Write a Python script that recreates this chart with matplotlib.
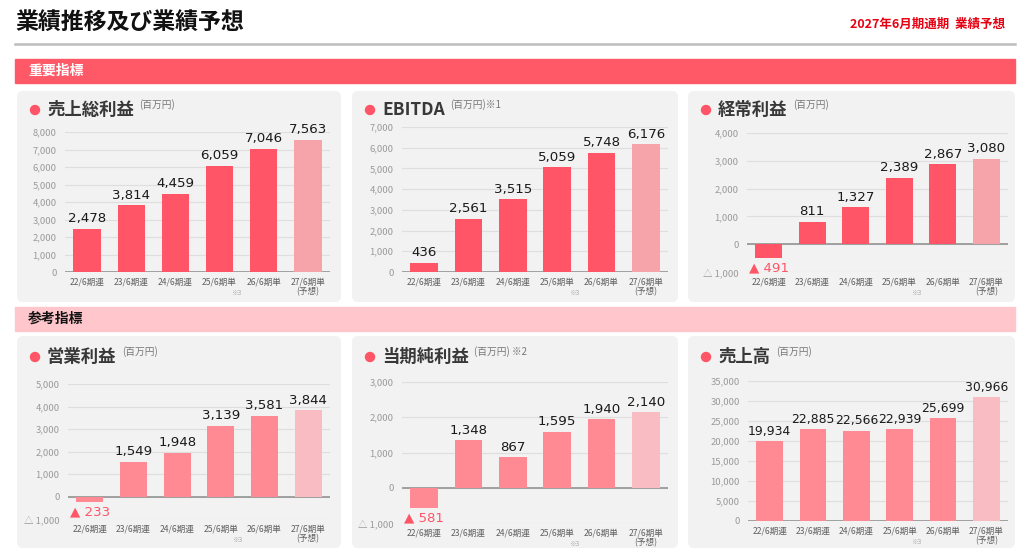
import matplotlib
matplotlib.use("Agg")
import matplotlib.pyplot as plt
from matplotlib.patches import FancyBboxPatch, Rectangle, Circle

plt.rcParams['font.family'] = ['Noto Sans CJK JP', 'DejaVu Sans']

categories = ["22/6期連", "23/6期連", "24/6期連", "25/6期単", "26/6期単", "27/6期単\n(予想)"]

gross_profit = [2478, 3814, 4459, 6059, 7046, 7563]
ebitda = [436, 2561, 3515, 5059, 5748, 6176]
ordinary_profit = [-491, 811, 1327, 2389, 2867, 3080]
operating_profit = [-233, 1549, 1948, 3139, 3581, 3844]
net_income = [-581, 1348, 867, 1595, 1940, 2140]
net_sales = [19934, 22885, 22566, 22939, 25699, 30966]

TOP_MAIN, TOP_FC = '#FF5566', '#F7A3AA'
BOT_MAIN, BOT_FC = '#FF8A94', '#F9BCC3'
NEG_COLOR = '#FF5566'

W, H = 1024, 555
fig = plt.figure(figsize=(W / 100, H / 100), dpi=100)

# background layer in pixel coordinates
bg = fig.add_axes([0, 0, 1, 1])
bg.set_xlim(0, W)
bg.set_ylim(H, 0)
bg.axis('off')

bg.text(15, 22, "業績推移及び業績予想", fontsize=16.5, weight='bold', va='center', color='#111')
bg.text(1005, 24, "2027年6月期通期  業績予想", fontsize=9, weight='bold', ha='right',
        va='center', color='#E60012')
bg.plot([15, 1015], [44, 44], color='#BDBDBD', lw=1.8)

bg.add_patch(Rectangle((15, 59), 1000, 24, color='#FF5967'))
bg.text(28, 71, "重要指標", fontsize=10, weight='bold', color='white', va='center')
bg.add_patch(Rectangle((15, 307), 1000, 24, color='#FFC6CC'))
bg.text(28, 319, "参考指標", fontsize=10, weight='bold', color='#111', va='center')

panels = [
    dict(title="売上総利益", note="(百万円)", values=gross_profit, ylim=(0, 8000), step=1000,
         box=(17, 91, 341, 302), ax=(65, 132, 330, 272), ty=110, main=TOP_MAIN, fc=TOP_FC, vfs=9.6),
    dict(title="EBITDA", note="(百万円)※1", values=ebitda, ylim=(0, 7000), step=1000,
         box=(352, 91, 678, 302), ax=(402, 127, 668, 272), ty=110, main=TOP_MAIN, fc=TOP_FC, vfs=9.6),
    dict(title="経常利益", note="(百万円)", values=ordinary_profit, ylim=(-1000, 4000), step=1000,
         box=(688, 91, 1015, 302), ax=(747, 133, 1008, 272), ty=110, main=TOP_MAIN, fc=TOP_FC, vfs=9.6),
    dict(title="営業利益", note="(百万円)", values=operating_profit, ylim=(-1000, 5000), step=1000,
         box=(17, 336, 341, 548), ax=(68, 384, 330, 519), ty=357, main=BOT_MAIN, fc=BOT_FC, vfs=9.6),
    dict(title="当期純利益", note="(百万円) ※2", values=net_income, ylim=(-1000, 3000), step=1000,
         box=(352, 336, 678, 548), ax=(402, 382, 668, 523), ty=357, main=BOT_MAIN, fc=BOT_FC, vfs=9.6),
    dict(title="売上高", note="(百万円)", values=net_sales, ylim=(0, 35000), step=5000,
         box=(688, 336, 1015, 548), ax=(748, 381, 1008, 521), ty=357, main=BOT_MAIN, fc=BOT_FC, vfs=8.9),
]


def fmt_tick(v):
    if v < 0:
        return "△ {:,}".format(abs(v))
    return "{:,}".format(v)


for p in panels:
    x0, y0, x1, y1 = p['box']
    bg.add_patch(FancyBboxPatch((x0, y0), x1 - x0, y1 - y0,
                                boxstyle="round,pad=0,rounding_size=6",
                                fc='#F2F2F2', ec='none'))
    bg.add_patch(Circle((x0 + 18, p['ty']), 4.5, color=TOP_MAIN))
    t = bg.text(x0 + 30, p['ty'], p['title'], fontsize=12.5, weight='bold',
                color='#383838', va='center')
    bg.annotate(p['note'], xy=(1, 0.8), xycoords=t, xytext=(4, 0),
                textcoords='offset points', fontsize=7, color='#777', va='center')

    ax0, ay0, ax1, ay1 = p['ax']
    ax = fig.add_axes([ax0 / W, 1 - ay1 / H, (ax1 - ax0) / W, (ay1 - ay0) / H])
    ax.set_facecolor('none')
    vals = p['values']
    colors = [p['main']] * 5 + [p['fc']]
    ax.bar(range(len(vals)), vals, width=0.62, color=colors, zorder=2)
    ax.set_xlim(-0.5, 5.5)
    ax.set_ylim(*p['ylim'])
    ticks = list(range(p['ylim'][0], p['ylim'][1] + 1, p['step']))
    ax.set_yticks(ticks)
    ax.set_yticklabels([fmt_tick(v) for v in ticks])
    ax.set_xticks(range(len(categories)))
    ax.set_xticklabels(categories, linespacing=1.15)
    ax.tick_params(axis='x', length=0, pad=4, labelsize=6.2, labelcolor='#606060')
    ax.tick_params(axis='y', length=0, pad=6, labelsize=6.8, labelcolor='#9A9A9A')
    for s in ax.spines.values():
        s.set_visible(False)
    ax.yaxis.grid(True, color='#DEDEDE', lw=0.8, zorder=0)
    ax.set_axisbelow(True)
    ax.axhline(0, color='#9A9A9A', lw=1.3, zorder=1.5)

    for i, v in enumerate(vals):
        if v >= 0:
            ax.annotate("{:,}".format(v), (i, v), xytext=(0, 2.5), textcoords='offset points',
                        ha='center', va='bottom', fontsize=p['vfs'], color='#1A1A1A',
                        family='DejaVu Sans', annotation_clip=False)
        else:
            ax.annotate("▲ {:,}".format(abs(v)), (i, v), xytext=(0, -2.5),
                        textcoords='offset points', ha='center', va='top',
                        fontsize=p['vfs'], color=NEG_COLOR, family='DejaVu Sans',
                        annotation_clip=False)

    ax.annotate("※3", xy=(3, 0), xycoords=('data', 'axes fraction'), xytext=(12, -15),
                textcoords='offset points', ha='center', va='center', fontsize=4.8,
                color='#AAAAAA', annotation_clip=False)

fig.savefig("out.png", dpi=100)
